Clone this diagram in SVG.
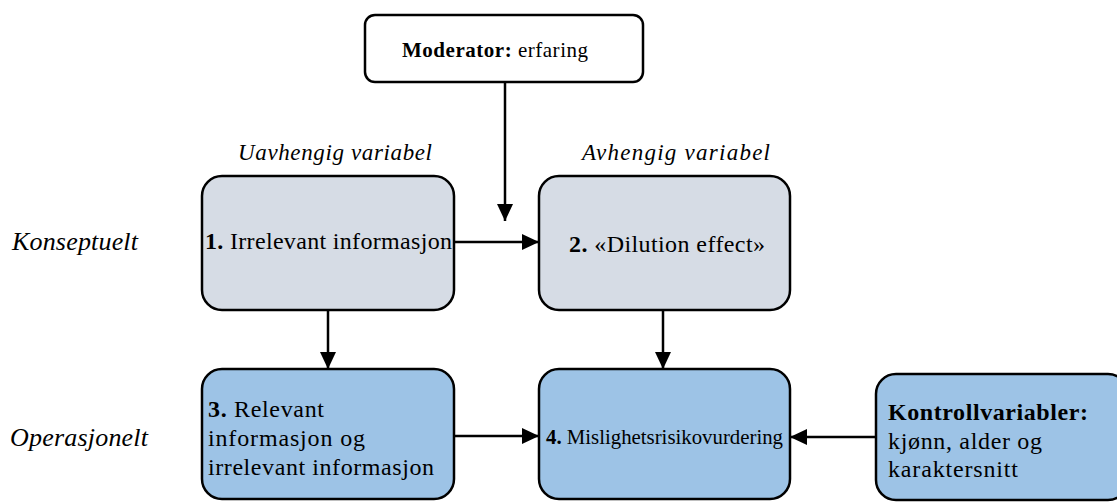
<svg xmlns="http://www.w3.org/2000/svg" width="1117" height="502" viewBox="0 0 1117 502">
<style>
.box{stroke:#000;stroke-width:2.5}
.grey{fill:#d6dce5}
.blue{fill:#9dc3e6}
text{font-family:"Liberation Serif","Times New Roman",serif;fill:#000}
.t{font-size:24px}
.lab{font-size:23px;font-style:italic}
.side{font-size:26px;font-style:italic}
.b{font-weight:bold}
.conn{stroke:#000;stroke-width:2.5;fill:none;marker-end:url(#ah)}
</style>
<defs>
<marker id="ah" markerUnits="userSpaceOnUse" markerWidth="18" markerHeight="16" refX="17" refY="8" orient="auto">
<path d="M0,0 L17,8 L0,16 Z" fill="#000"/>
</marker>
</defs>
<text class="side" x="12" y="250" textLength="126" lengthAdjust="spacing">Konseptuelt</text>
<text class="side" x="10" y="446" textLength="138" lengthAdjust="spacing">Operasjonelt</text>
<text class="lab" x="238" y="160" textLength="194" lengthAdjust="spacing">Uavhengig variabel</text>
<text class="lab" x="582" y="160" textLength="188" lengthAdjust="spacing">Avhengig variabel</text>
<g id="connectors">
<line class="conn" x1="505" y1="82" x2="505" y2="221"/>
<line class="conn" x1="454" y1="242" x2="539" y2="242"/>
<line class="conn" x1="328" y1="310" x2="328" y2="369"/>
<line class="conn" x1="663" y1="310" x2="663" y2="369"/>
<line class="conn" x1="454" y1="436" x2="539" y2="436"/>
<line class="conn" x1="876" y1="437" x2="790" y2="437"/>
</g>
<g id="moderator">
<rect class="box" x="365" y="15" width="278" height="67" rx="10" fill="#fff"/>
<text x="402" y="57" font-size="21" textLength="186" lengthAdjust="spacing"><tspan class="b">Moderator:</tspan> erfaring</text>
</g>
<g id="node1">
<rect class="box grey" x="202" y="176" width="252" height="134" rx="20"/>
<text class="t" x="205" y="249" textLength="247" lengthAdjust="spacing"><tspan class="b">1.</tspan> Irrelevant informasjon</text>
</g>
<g id="node2">
<rect class="box grey" x="539" y="176" width="251" height="134" rx="20"/>
<text class="t" x="569" y="252" textLength="196" lengthAdjust="spacing"><tspan class="b">2.</tspan> «Dilution effect»</text>
</g>
<g id="node3">
<rect class="box blue" x="202" y="369" width="252" height="130" rx="20"/>
<text class="t" x="208" y="417" textLength="116" lengthAdjust="spacing"><tspan class="b">3.</tspan> Relevant</text>
<text class="t" x="208" y="446" textLength="157" lengthAdjust="spacing">informasjon og</text>
<text class="t" x="208" y="475" textLength="226" lengthAdjust="spacing">irrelevant informasjon</text>
</g>
<g id="node4">
<rect class="box blue" x="539" y="369" width="251" height="130" rx="20"/>
<text x="546" y="444" font-size="20.8" textLength="237" lengthAdjust="spacing"><tspan class="b">4.</tspan> Mislighetsrisikovurdering</text>
</g>
<g id="node5">
<rect class="box blue" x="876" y="374" width="252" height="126" rx="20"/>
<text class="t b" x="888" y="420" textLength="200" lengthAdjust="spacing">Kontrollvariabler:</text>
<text class="t" x="888" y="449" textLength="154" lengthAdjust="spacing">kjønn, alder og</text>
<text class="t" x="888" y="477" textLength="130" lengthAdjust="spacing">karaktersnitt</text>
</g>
</svg>
